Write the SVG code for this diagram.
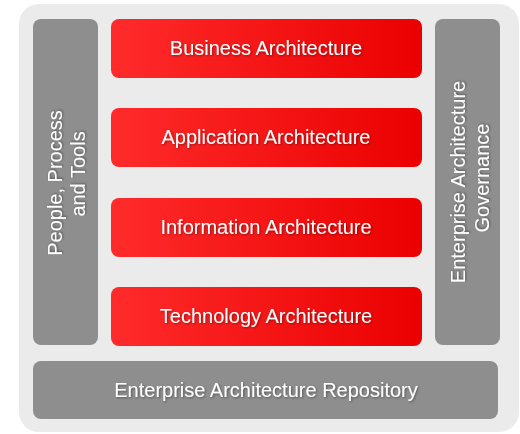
<svg xmlns="http://www.w3.org/2000/svg" width="520" height="434" viewBox="0 0 520 434">
<defs>
<linearGradient id="red" x1="0" y1="0" x2="1" y2="0">
<stop offset="0" stop-color="#ff2b2b"/>
<stop offset="1" stop-color="#eb0000"/>
</linearGradient>
<filter id="sh" x="-10%" y="-30%" width="120%" height="160%">
<feDropShadow dx="1" dy="1" stdDeviation="0.9" flood-color="#000" flood-opacity="0.4"/>
</filter>
</defs>
<style>
.red{fill:url(#red)}
.gray{fill:#8e8e8e}
text{font-family:"Liberation Sans",Arial,sans-serif;font-size:20px;fill:#fff;text-anchor:middle;filter:url(#sh)}
</style>
<rect x="19" y="4" width="500" height="428" rx="20" fill="#ebebeb"/>
<g id="people">
<rect class="gray" x="33" y="19" width="65" height="326" rx="8"/>
<text transform="translate(62,183) rotate(-90)">People, Process</text>
<text transform="translate(85,174) rotate(-90)">and Tools</text>
</g>
<g id="governance">
<rect class="gray" x="435" y="19" width="65" height="326" rx="8"/>
<text transform="translate(465,182) rotate(-90)">Enterprise Architecture</text>
<text transform="translate(489,178) rotate(-90)">Governance</text>
</g>
<g id="business">
<rect class="red" x="111" y="19" width="311" height="59" rx="8"/>
<text x="266" y="55">Business Architecture</text>
</g>
<g id="application">
<rect class="red" x="111" y="108" width="311" height="59" rx="8"/>
<text x="266" y="144">Application Architecture</text>
</g>
<g id="information">
<rect class="red" x="111" y="198" width="311" height="59" rx="8"/>
<text x="266" y="234">Information Architecture</text>
</g>
<g id="technology">
<rect class="red" x="111" y="287" width="311" height="59" rx="8"/>
<text x="266" y="323">Technology Architecture</text>
</g>
<g id="repository">
<rect class="gray" x="33" y="361" width="465" height="58" rx="8"/>
<text x="266" y="397">Enterprise Architecture Repository</text>
</g>
<g id="connectors"/>
</svg>
